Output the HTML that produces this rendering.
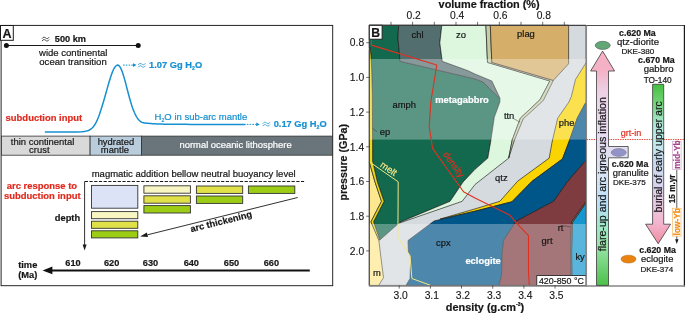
<!DOCTYPE html>
<html>
<head>
<meta charset="utf-8">
<title>Figure</title>
<style>
html,body{margin:0;padding:0;background:#ffffff;}
body{width:685px;height:314px;overflow:hidden;font-family:"Liberation Sans",sans-serif;}
svg{display:block;position:absolute;left:0;top:0;will-change:transform;}
text{font-family:"Liberation Sans",sans-serif;color:#161616;fill:currentColor;stroke:currentColor;stroke-width:0.2px;}
.b{font-weight:bold;}
.r{color:#e0291d;}
.bl{color:#1690d0;}
.w{color:#ffffff;}
.lab{font-size:9.4px;}
.ax{font-size:10.3px;stroke-width:0.12px;}
.ol{stroke:#1c1c1c;stroke-width:0.65;stroke-linejoin:round;}
</style>
</head>
<body>
<svg width="685" height="314" viewBox="0 0 685 314">
<defs>
<linearGradient id="gL" x1="0" y1="0" x2="0" y2="1">
<stop offset="0" stop-color="#f6b0c4"/>
<stop offset="0.085" stop-color="#f4b2c6"/>
<stop offset="0.123" stop-color="#f0c0d4"/>
<stop offset="0.166" stop-color="#eecee2"/>
<stop offset="0.209" stop-color="#ecd6ea"/>
<stop offset="0.362" stop-color="#e8dcf0"/>
<stop offset="0.533" stop-color="#d8e4f6"/>
<stop offset="0.661" stop-color="#b8e0f8"/>
<stop offset="0.742" stop-color="#a0e8cc"/>
<stop offset="0.832" stop-color="#98e4a8"/>
<stop offset="1" stop-color="#4cc04a"/>
</linearGradient>
<linearGradient id="gR" x1="0" y1="0" x2="0" y2="1">
<stop offset="0" stop-color="#44c040"/>
<stop offset="0.10" stop-color="#6cd070"/>
<stop offset="0.26" stop-color="#aee8d8"/>
<stop offset="0.36" stop-color="#c2ecec"/>
<stop offset="0.475" stop-color="#c6dcf2"/>
<stop offset="0.63" stop-color="#d8d4ee"/>
<stop offset="0.726" stop-color="#e8cce6"/>
<stop offset="0.876" stop-color="#f2b4cc"/>
<stop offset="1" stop-color="#f08ca0"/>
</linearGradient>
<g id="apx" fill="none" stroke-width="0.75" stroke-linecap="round">
<path d="M0,-0.8 C1.2,-2.7 2.4,-2.1 3.4,-1.3 C4.4,-0.5 5.6,0.1 6.8,-1.8"/>
<path d="M0,1.6 C1.2,-0.3 2.4,0.3 3.4,1.1 C4.4,1.9 5.6,2.5 6.8,0.6"/>
</g>
</defs>

<!-- ================= PANEL A ================= -->
<g id="panelA">
<rect x="1.1" y="25.4" width="331.6" height="260.3" fill="none" stroke="#1a1a1a" stroke-width="0.95"/>
<rect x="0.5" y="25.5" width="12.8" height="14.8" fill="#ffffff" stroke="#1a1a1a" stroke-width="1"/>
<text x="2.5" y="37.7" class="b" font-size="12.5">A</text>

<!-- scale bar -->
<line x1="6.4" y1="45.5" x2="138.2" y2="45.5" stroke="#1a1a1a" stroke-width="1"/>
<circle cx="6.4" cy="45.5" r="2.5" fill="#111"/>
<circle cx="138.2" cy="45.5" r="2.5" fill="#111"/>
<use href="#apx" x="42.2" y="39.2" stroke="#1a1a1a"/><text x="54.8" y="41.7" class="b" font-size="9.2">500 km</text>
<text x="39" y="56.2" font-size="9.55">wide continental</text>
<text x="39.3" y="65.4" font-size="9.55">ocean transition</text>

<!-- water curve -->
<path d="M45.4,132.00 L49.4,132.00 L53.4,132.00 L57.4,132.00 L61.4,132.00 L65.4,132.00 L69.4,132.00 L73.4,131.99 L77.4,131.94 L81.4,131.79 L82.4,131.71 L83.4,131.61 L84.4,131.47 L85.4,131.30 L86.4,131.07 L87.4,130.79 L88.4,130.43 L89.4,129.98 L90.4,129.42 L91.4,128.74 L92.4,127.82 L93.4,126.67 L94.4,125.30 L95.4,123.68 L96.4,121.80 L97.4,119.65 L98.4,117.24 L99.4,114.55 L100.4,111.61 L101.4,108.44 L102.4,105.25 L103.4,101.96 L104.4,98.53 L105.4,95.00 L106.4,91.42 L107.4,87.84 L108.4,84.32 L109.4,80.92 L110.4,77.70 L111.4,74.73 L112.4,72.07 L113.4,69.77 L114.4,67.89 L115.4,66.47 L116.4,65.54 L117.4,65.12 L118.4,65.27 L119.4,66.08 L120.4,67.55 L121.4,69.61 L122.4,72.21 L123.4,75.25 L124.4,78.65 L125.4,82.31 L126.4,86.12 L127.4,89.98 L128.4,93.81 L129.4,97.52 L130.4,101.06 L131.4,104.36 L132.4,107.40 L133.4,110.14 L134.4,112.57 L135.4,114.71 L136.4,116.55 L137.4,118.11 L138.4,119.42 L139.4,120.50 L140.4,121.38 L141.4,122.09 L142.4,122.60 L143.4,122.76 L144.4,122.90 L145.4,123.03 L146.4,123.15 L147.4,123.26 L148.4,123.36 L149.4,123.45 L150.4,123.53 L151.4,123.61 L152.4,123.67 L153.4,123.74 L154.4,123.80 L155.4,123.85 L156.4,123.90 L157.4,123.94 L158.4,123.98 L159.4,124.02 L160.4,124.05 L161.4,124.08 L162.4,124.11 L163.4,124.13 L164.4,124.16 L165.4,124.18 L166.4,124.20 L167.4,124.21 L168.4,124.23 L169.4,124.25 L170.4,124.26 L174.4,124.30 L178.4,124.33 L182.4,124.35 L186.4,124.37 L190.4,124.38 L194.4,124.38 L198.4,124.39 L202.4,124.39 L206.4,124.39 L210.4,124.40 L214.4,124.40 L218.4,124.40 L222.4,124.40 L226.4,124.40 L230.4,124.40 L234.4,124.40 L238.4,124.40 L242.4,124.40 L245.0,124.40" fill="none" stroke="#1690d0" stroke-width="1.5" stroke-linecap="round"/>
<line x1="123" y1="65.1" x2="133" y2="65.1" stroke="#1690d0" stroke-width="1" stroke-dasharray="1.6,1.2"/>
<path d="M133,63.3 L136.6,65.1 L133,66.9 Z" fill="#1690d0"/>
<use href="#apx" x="138.4" y="65.4" stroke="#1690d0"/><text x="149.1" y="68.4" class="b bl" font-size="9.3">1.07 Gg H<tspan font-size="5.2" dy="1.8">2</tspan><tspan dy="-1.8">O</tspan></text>
<text x="154.6" y="120" class="bl" font-size="9.5">H<tspan font-size="5.2" dy="1.8">2</tspan><tspan dy="-1.8">O in sub-arc mantle</tspan></text>
<line x1="246.8" y1="124.4" x2="256.4" y2="124.4" stroke="#1690d0" stroke-width="1" stroke-dasharray="1.6,1.2"/>
<path d="M256.2,122.6 L259.8,124.4 L256.2,126.2 Z" fill="#1690d0"/>
<use href="#apx" x="263" y="124.2" stroke="#1690d0"/><text x="273.7" y="127.2" class="b bl" font-size="9.3">0.17 Gg H<tspan font-size="5.2" dy="1.8">2</tspan><tspan dy="-1.8">O</tspan></text>
<text x="5.6" y="121.1" class="b r" font-size="9.45">subduction input</text>

<!-- lithosphere bar -->
<rect x="1.5" y="136.1" width="88.6" height="19.1" fill="#d9d9d9" stroke="#333" stroke-width="0.8"/>
<rect x="90.1" y="136.1" width="51.5" height="19.1" fill="#b8ccdc" stroke="#333" stroke-width="0.8"/>
<rect x="141.6" y="136.1" width="191" height="19.1" fill="#6a757b" stroke="#333" stroke-width="0.8"/>
<text x="42.6" y="144.8" font-size="9.45" text-anchor="middle">thin continental</text>
<text x="39.3" y="152.9" font-size="9.45" text-anchor="middle">crust</text>
<text x="115.9" y="144.8" font-size="9.4" text-anchor="middle">hydrated</text>
<text x="114.9" y="153.1" font-size="9.4" text-anchor="middle">mantle</text>
<text x="235.6" y="147.8" font-size="9.4" text-anchor="middle" class="w">normal oceanic lithosphere</text>

<!-- arc response -->
<text x="91.7" y="176.6" font-size="9.5">magmatic addition bellow neutral buoyancy level</text>
<line x1="84.8" y1="181.4" x2="304.1" y2="181.4" stroke="#1a1a1a" stroke-width="1.05" stroke-dasharray="3.2,1.5"/>
<line x1="84.6" y1="181.4" x2="84.6" y2="246" stroke="#1a1a1a" stroke-width="0.9"/>
<path d="M82.6,244.5 L86.6,244.5 L84.6,250.4 Z" fill="#1a1a1a"/>
<text x="41.9" y="188.8" class="b r" font-size="9.45" text-anchor="middle">arc response to</text>
<text x="42.3" y="199" class="b r" font-size="9.45" text-anchor="middle">subduction input</text>
<text x="54.8" y="221.1" class="b" font-size="9.3">depth</text>

<g stroke="#333" stroke-width="0.9">
<rect x="91.5" y="185.4" width="46.3" height="22.8" fill="#dde3f6"/>
<rect x="91.5" y="211.6" width="46.3" height="7.1" fill="#f8f6c2"/>
<rect x="91.5" y="221.2" width="46.3" height="7.1" fill="#e0e148"/>
<rect x="91.5" y="230.8" width="46.3" height="7.1" fill="#9ccd14"/>
<rect x="143.9" y="185.8" width="46.5" height="7.4" fill="#f8f6c2"/>
<rect x="143.9" y="195.8" width="46.5" height="7.4" fill="#e0e148"/>
<rect x="143.9" y="205.6" width="46.5" height="7.4" fill="#9ccd14"/>
<rect x="196.4" y="186" width="46.3" height="7.4" fill="#e0e148"/>
<rect x="196.4" y="196" width="46.3" height="7.4" fill="#9ccd14"/>
<rect x="248.4" y="186" width="46.4" height="7.4" fill="#9ccd14"/>
</g>
<line x1="297.7" y1="197.5" x2="147.5" y2="234.8" stroke="#1a1a1a" stroke-width="0.9"/>
<path d="M140.1,236.6 L146.9,232.5 L148.0,237.0 Z" fill="#1a1a1a"/>
<text transform="translate(191.3,232.2) rotate(-14)" class="b" font-size="9.3">arc thickening</text>

<!-- time axis -->
<line x1="47" y1="270.4" x2="309.8" y2="270.4" stroke="#111" stroke-width="2"/>
<path d="M42.6,270.4 L52.4,266.6 L52.4,274.2 Z" fill="#111"/>
<text x="18.2" y="267.5" class="b" font-size="9.3">time</text>
<text x="18.2" y="278.2" class="b" font-size="9.3">(Ma)</text>
<g class="b" font-size="9.2" text-anchor="middle">
<text x="73" y="265.6">610</text>
<text x="111.6" y="265.6">620</text>
<text x="150.5" y="265.6">630</text>
<text x="191.3" y="265.6">640</text>
<text x="231.5" y="265.6">650</text>
<text x="271.4" y="265.6">660</text>
</g>
</g>

<g id="panelB">
<!--BP0-->
<polygon points="369.3,25.2 586.0,25.2 586.0,285.4 369.3,285.4" fill="#d4dade" class="ol"/>
<polygon points="369.3,25.2 398.7,25.2 397.9,38.1 398.7,46.1 400.0,61.3 475.0,78.9 483.0,82.1 499.5,98.5 499.9,99.7 499.9,102.0 494.3,117.3 490.6,142.0 487.8,158.1 475.0,169.3 463.0,182.0 450.1,201.3 400.0,222.2 379.8,240.0 379.8,240.0 373.6,221.8 384.0,201.3 377.4,182.0 372.6,161.0 372.6,142.0 372.3,94.0 371.7,70.0 371.0,56.0 370.0,47.7 369.3,47.7" fill="#13694e" class="ol"/>
<polygon points="398.7,25.2 397.9,38.1 398.7,46.1 400.0,61.3 475.0,78.9 483.0,82.1 499.5,98.5 499.9,98.1 491.9,81.0 475.0,74.0 467.8,70.6 442.2,61.3 439.8,42.9 441.8,25.2" fill="#536e6f" class="ol"/>
<polygon points="441.8,25.2 439.8,42.9 442.2,61.3 467.8,70.6 475.0,74.0 491.9,81.0 499.9,98.1 499.9,102.0 494.3,117.3 490.6,142.0 487.8,158.1 475.0,169.3 463.0,182.0 450.1,201.3 400.0,222.2 399.5,223.0 462.2,201.3 475.0,184.5 508.7,158.1 508.7,158.1 512.3,139.7 520.4,118.1 540.0,99.7 549.9,81.0 487.5,62.4 485.9,25.2" fill="#dcf7de" class="ol"/>
<polygon points="485.9,25.2 487.5,62.4 549.9,81.0 540.0,99.7 520.4,118.1 512.3,139.7 508.7,158.1 514.3,140.5 523.2,118.9 543.3,100.5 553.3,80.4 491.8,62.4 490.3,25.2" fill="#c8cda6" class="ol"/>
<polygon points="490.3,25.2 568.6,25.2 568.6,63.8 553.3,80.4 491.8,62.4" fill="#d5af69" class="ol"/>
<polygon points="586.0,62.8 585.0,64.4 575.4,79.7 571.4,96.5 568.9,102.0 557.7,118.1 552.1,142.0 549.2,158.1 517.6,181.2 499.9,201.3 475.0,208.9 440.0,219.1 475.0,211.2 511.9,201.8 532.0,181.3 562.5,158.9 568.9,142.0 577.3,118.1 585.0,103.8 586.0,102.5" fill="#f9d400" class="ol"/>
<polygon points="586.0,102.5 585.0,103.8 577.3,118.1 568.9,142.0 562.5,158.9 532.0,181.3 511.9,201.8 475.0,211.2 440.0,219.6 434.1,221.0 408.0,240.5 408.4,252.0 410.8,256.8 410.0,278.5 406.0,285.4 499.1,285.4 501.5,276.1 502.3,252.0 503.6,240.5 516.0,221.3 553.7,201.3 567.3,182.0 585.0,161.3 586.0,160.0" fill="#005589" class="ol"/>
<polygon points="586.0,160.0 585.0,161.3 567.3,182.0 553.7,201.3 516.0,221.3 503.6,240.5 502.3,252.0 501.5,276.1 499.1,285.4 571.0,285.4 571.0,275.3 570.6,252.0 571.4,222.1 585.0,202.9 586.0,201.5" fill="#7f3c40" class="ol"/>
<polygon points="586.0,203.0 572.4,222.4 571.6,252.0 572.0,285.4 586.0,285.4" fill="#1496cf" class="ol"/>
<polygon points="586.0,201.5 585.0,202.9 571.4,222.1 570.6,252.0 571.0,275.3 571.0,285.4 572.0,285.4 571.6,252.0 572.4,222.4 586.0,203.0" fill="#a87858" class="ol"/>
<polygon points="369.3,162.0 375.0,182.0 381.5,201.3 371.0,221.8 378.8,240.0 381.1,258.9 383.5,277.7 378.7,285.4 369.3,285.4" fill="#fee88f" class="ol"/>
<polygon points="370.0,47.7 371.0,56.0 371.7,70.0 372.3,94.0 372.6,142.0 372.6,161.0 377.4,182.0 384.0,201.3 373.6,221.8 379.8,240.0 378.8,240.0 371.0,221.8 381.5,201.3 375.0,182.0 369.3,162.0 369.3,50.7" fill="#e6da1e" class="ol"/>
<rect x="369.3" y="59.0" width="216.7" height="80.6" fill="#ffffff" fill-opacity="0.3"/>
<rect x="369.3" y="224.0" width="216.7" height="61.4" fill="#ffffff" fill-opacity="0.3"/>
<polyline points="369.8,162.1 398.2,181.8 397.9,237.3 410.0,255.7 411.9,278.5 430.8,285.4" fill="none" stroke="#f3e787" stroke-width="1"/>
<polyline points="371.4,39.8 371.4,45.1 436.8,65.0 430.8,102.0 429.2,126.9 432.6,148.4 463.5,191.8 475.0,198.1 509.5,214.9 516.4,222.8 528.5,235.7 528.5,272.0 529.3,285.4" fill="none" stroke="#e0301f" stroke-width="1.1" stroke-linejoin="round"/>
<!--BP1-->
<text x="411.6" y="37.7" class="lab">chl</text>
<text x="456.1" y="37.7" class="lab">zo</text>
<text x="517.1" y="37.3" class="lab">plag</text>
<text x="392.6" y="107.8" class="lab">amph</text>
<text x="379.8" y="134.8" class="lab">ep</text>
<text x="503.9" y="118.9" class="lab">ttn</text>
<text x="558.8" y="126.1" class="lab">phe</text>
<text x="495.1" y="180.5" class="lab">qtz</text>
<text x="436.1" y="246.1" class="lab">cpx</text>
<text x="541.6" y="243.7" class="lab">grt</text>
<text x="557.7" y="230.8" class="lab">rt</text>
<text x="575.4" y="259.7" class="lab">ky</text>
<text x="373" y="276.1" class="lab">m</text>
<text x="435.2" y="103.4" class="lab b w">metagabbro</text>
<text x="465.4" y="263.8" class="lab b w">eclogite</text>
<text transform="translate(442.7,154.6) rotate(54)" font-size="9.2" style="color:#e0301f">density</text>
<text transform="translate(379.6,166.2) rotate(35)" font-size="9.4" style="color:#f3e787">melt</text>
<line x1="372.7" y1="128.5" x2="377" y2="131.7" stroke="#333" stroke-width="0.5"/>
<line x1="514" y1="118.9" x2="520" y2="122.1" stroke="#333" stroke-width="0.5"/>
<line x1="563.3" y1="225.7" x2="570.5" y2="227" stroke="#333" stroke-width="0.5"/>
<rect x="536.8" y="275.6" width="49.2" height="9.8" fill="#fff" stroke="#1a1a1a" stroke-width="0.8"/>
<text x="538.9" y="283.8" font-size="8.9">420-850 °C</text>
<rect x="369.3" y="25.2" width="12.8" height="14" fill="#fff" stroke="#1a1a1a" stroke-width="0.9"/>
<text x="371.3" y="37" class="b" font-size="12.2">B</text>
<line x1="369.4" y1="25.2" x2="369.4" y2="286" stroke="#444" stroke-width="0.8"/>
<line x1="368.9" y1="286" x2="586.0" y2="286" stroke="#868686" stroke-width="1.3"/>
<line x1="369.3" y1="25.5" x2="586.0" y2="25.5" stroke="#3a3a3a" stroke-width="0.9"/>
<line x1="391.0" y1="21.8" x2="391.0" y2="25.2" stroke="#333" stroke-width="0.7"/>
<line x1="412.6" y1="21.8" x2="412.6" y2="25.2" stroke="#333" stroke-width="0.7"/>
<line x1="434.3" y1="21.8" x2="434.3" y2="25.2" stroke="#333" stroke-width="0.7"/>
<line x1="456.0" y1="21.8" x2="456.0" y2="25.2" stroke="#333" stroke-width="0.7"/>
<line x1="477.6" y1="21.8" x2="477.6" y2="25.2" stroke="#333" stroke-width="0.7"/>
<line x1="499.3" y1="21.8" x2="499.3" y2="25.2" stroke="#333" stroke-width="0.7"/>
<line x1="521.0" y1="21.8" x2="521.0" y2="25.2" stroke="#333" stroke-width="0.7"/>
<line x1="542.7" y1="21.8" x2="542.7" y2="25.2" stroke="#333" stroke-width="0.7"/>
<line x1="564.3" y1="21.8" x2="564.3" y2="25.2" stroke="#333" stroke-width="0.7"/>
<text x="413.7" y="19.4" class="ax" text-anchor="middle">0.2</text>
<text x="457.1" y="19.4" class="ax" text-anchor="middle">0.4</text>
<text x="500.4" y="19.4" class="ax" text-anchor="middle">0.6</text>
<text x="543.8" y="19.4" class="ax" text-anchor="middle">0.8</text>
<line x1="366.2" y1="42.7" x2="369.3" y2="42.7" stroke="#333" stroke-width="0.7"/>
<text x="364.2" y="46.4" class="ax" text-anchor="end">0.8</text>
<line x1="366.2" y1="77.4" x2="369.3" y2="77.4" stroke="#333" stroke-width="0.7"/>
<text x="364.2" y="81.1" class="ax" text-anchor="end">1.0</text>
<line x1="366.2" y1="112.1" x2="369.3" y2="112.1" stroke="#333" stroke-width="0.7"/>
<text x="364.2" y="115.8" class="ax" text-anchor="end">1.2</text>
<line x1="366.2" y1="146.8" x2="369.3" y2="146.8" stroke="#333" stroke-width="0.7"/>
<text x="364.2" y="150.5" class="ax" text-anchor="end">1.4</text>
<line x1="366.2" y1="181.5" x2="369.3" y2="181.5" stroke="#333" stroke-width="0.7"/>
<text x="364.2" y="185.2" class="ax" text-anchor="end">1.6</text>
<line x1="366.2" y1="216.2" x2="369.3" y2="216.2" stroke="#333" stroke-width="0.7"/>
<text x="364.2" y="219.9" class="ax" text-anchor="end">1.8</text>
<line x1="366.2" y1="250.9" x2="369.3" y2="250.9" stroke="#333" stroke-width="0.7"/>
<text x="364.2" y="254.6" class="ax" text-anchor="end">2.0</text>
<line x1="399.2" y1="285.4" x2="399.2" y2="288.6" stroke="#333" stroke-width="0.7"/>
<text x="400.6" y="298.6" class="ax" text-anchor="middle">3.0</text>
<line x1="430.4" y1="285.4" x2="430.4" y2="288.6" stroke="#333" stroke-width="0.7"/>
<text x="431.8" y="298.6" class="ax" text-anchor="middle">3.1</text>
<line x1="461.5" y1="285.4" x2="461.5" y2="288.6" stroke="#333" stroke-width="0.7"/>
<text x="462.9" y="298.6" class="ax" text-anchor="middle">3.2</text>
<line x1="492.7" y1="285.4" x2="492.7" y2="288.6" stroke="#333" stroke-width="0.7"/>
<text x="494.1" y="298.6" class="ax" text-anchor="middle">3.3</text>
<line x1="523.9" y1="285.4" x2="523.9" y2="288.6" stroke="#333" stroke-width="0.7"/>
<text x="525.3" y="298.6" class="ax" text-anchor="middle">3.4</text>
<line x1="555.0" y1="285.4" x2="555.0" y2="288.6" stroke="#333" stroke-width="0.7"/>
<text x="556.4" y="298.6" class="ax" text-anchor="middle">3.5</text>
<text x="438.6" y="7.6" class="b" font-size="10.9">volume fraction (%)</text>
<text x="445.8" y="310.8" class="b" font-size="10.9">density (g.cm<tspan font-size="5" dy="-4.6">-3</tspan><tspan dy="4.6">)</tspan></text>
<text transform="translate(347.4,200.6) rotate(-90)" class="b" font-size="10.7">pressure (GPa)</text>
</g>

<g id="panelC">
<path d="M586,25.5 L684.4,25.5" fill="none" stroke="#3a3a3a" stroke-width="0.9"/><line x1="684.4" y1="25" x2="684.4" y2="286.5" stroke="#1a1a1a" stroke-width="1.2"/><line x1="586" y1="286" x2="685" y2="286" stroke="#868686" stroke-width="1.3"/>
<line x1="586.4" y1="25.5" x2="586.4" y2="286.5" stroke="#888" stroke-width="1.3"/>
<line x1="586.5" y1="139.5" x2="684" y2="139.5" stroke="#e0301f" stroke-width="0.9" stroke-dasharray="1.4,1"/>
<path d="M602.6,51.1 L614.6,71 L608.5,71 L608.5,146.5 L628.2,146.5 L628.2,157.8 L608.5,157.8 L608.5,285.4 L596.5,285.4 L596.5,71 L590.6,71 Z" fill="url(#gL)" stroke="#3c3c3c" stroke-width="0.8" stroke-linejoin="miter"/>
<path d="M652.6,84.3 L663.7,84.3 L663.7,224.2 L670.6,224.2 L658.2,243.7 L645.6,224.2 L652.6,224.2 Z" fill="url(#gR)" stroke="#3c3c3c" stroke-width="0.8"/>
<ellipse cx="602.7" cy="45.4" rx="7.5" ry="4.05" fill="#62a877" stroke="#555" stroke-width="0.6"/>
<ellipse cx="618.7" cy="152.5" rx="7.5" ry="3.9" fill="#9493c9" stroke="#707080" stroke-width="0.5"/>
<ellipse cx="628.5" cy="259.1" rx="7.5" ry="3.95" fill="#ea8210" stroke="#a86410" stroke-width="0.5"/>
<text x="620.7" y="136.4" font-size="9.1" style="color:#e0301f">grt-in</text>
<text transform="translate(605.5,251.3) rotate(-90)" font-size="10.63">flare-up and arc igneous inflation</text>
<text transform="translate(661.8,212.5) rotate(-90)" font-size="10.6">burial of early upper arc</text>
<text x="637.4" y="35.8" font-size="8.8" text-anchor="middle" class="b">c.620 Ma</text>
<text x="638" y="44.5" font-size="9.55" text-anchor="middle">qtz-diorite</text>
<text x="637.8" y="53.8" font-size="8.1" text-anchor="middle">DKE-380</text>
<text x="656.4" y="62.9" font-size="8.8" text-anchor="middle" class="b">c.670 Ma</text>
<text x="658.6" y="72.1" font-size="9.6" text-anchor="middle">gabbro</text>
<text x="657.7" y="82.5" font-size="8.3" text-anchor="middle">TO-140</text>
<text x="630" y="166.9" font-size="8.8" text-anchor="middle" class="b">c.620 Ma</text>
<text x="630.7" y="175.9" font-size="9.4" text-anchor="middle">granulite</text>
<text x="629.4" y="185.1" font-size="8.1" text-anchor="middle">DKE-375</text>
<text x="657.6" y="252.7" font-size="8.8" text-anchor="middle" class="b">c.620 Ma</text>
<text x="657.2" y="261.6" font-size="9.4" text-anchor="middle">eclogite</text>
<text x="656.9" y="272" font-size="8.05" text-anchor="middle">DKE-374</text>
<line x1="676.8" y1="169.5" x2="676.8" y2="240" stroke="#1a1a1a" stroke-width="0.7"/>
<path d="M675.1,239.2 L678.5,239.2 L676.8,244 Z" fill="#1a1a1a"/>
<rect x="672.6" y="141.5" width="8.5" height="28.1" fill="#fff" stroke="#c8a0c2" stroke-width="0.6"/>
<text transform="translate(679.6,168.8) rotate(-90)" class="b" font-size="8.4" style="color:#a2488a">mid-Yb</text>
<rect x="672.3" y="208.2" width="8.7" height="27.9" fill="#fff" stroke="#f4b050" stroke-width="0.6"/>
<text transform="translate(679.5,235.4) rotate(-90)" class="b" font-size="8.3" style="color:#f08c14">low-Yb</text>
<text transform="translate(674.8,203.2) rotate(-90)" class="b" font-size="8.2">15 m.yr</text>
</g>

</svg>
</body>
</html>
